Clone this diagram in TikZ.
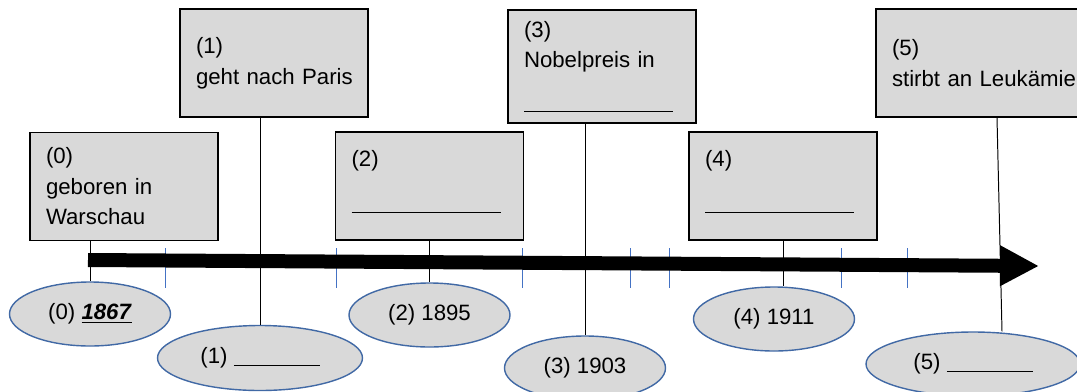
\documentclass[tikz,border=0pt]{standalone}
\usepackage{fontspec}
\setmainfont{Liberation Sans}
\usetikzlibrary{shapes.geometric,arrows.meta}
\definecolor{ovalblue}{RGB}{65,105,165}
\definecolor{tickblue}{RGB}{68,114,196}
\tikzset{
  eventbox/.style={draw, rectangle, line width=0.9pt, fill=gray!30, text width=#1, inner xsep=0.4cm, minimum height=2.7cm, align=left, font=\fontsize{15.8pt}{21.7pt}\selectfont},
  eventbox/.default=3.9cm,
  yearoval/.style={draw=ovalblue, ellipse, line width=1pt, fill=gray!30, minimum width=4.025cm, minimum height=1.6cm, inner sep=0pt, font=\fontsize{15.8pt}{21.7pt}\selectfont}
}

\begin{document}
\begin{tikzpicture}[line width=0.7pt]
    \useasboundingbox (0, 0) rectangle (26.925, -9.775);

    % 目盛りと時間軸
    \foreach \x in {4.125, 8.4, 13.05, 15.75, 16.725, 21.025, 22.675}
        \draw[tickblue, line width=0.6pt] (\x, -6.2) -- (\x, -7.2);
    \draw[line width=0.35cm, -{Triangle[length=0.975cm, width=0.95cm]}] (2.2, -6.5) -- (25.975, -6.65);

    % 箱を描画
    \node[eventbox] (A) at (3.1, -4.6625) {(0)\\geboren~in\\Warschau};
    \node[eventbox] (B) at (6.85, -1.575) {(1)\\geht~nach~Paris};
    \node[eventbox] (C) at (10.7375, -4.65) {(2)\\\rule[-11.5pt]{106pt}{0.9pt}\rule[-18pt]{0pt}{0pt}};
    \node[eventbox, minimum height=2.825cm] (D) at (15.05, -1.6625) {(3)\\Nobelpreis~in\\\rule[-10pt]{106pt}{0.9pt}};
    \node[eventbox] (E) at (19.575, -4.65) {(4)\\\rule[-11.5pt]{106pt}{0.9pt}\rule[-18pt]{0pt}{0pt}};
    \node[eventbox=4.55cm] (F) at (24.575, -1.575) {(5)\\stirbt~an~Leukämie};

    % 楕円を描画
    \node[yearoval] (G) at (2.25, -7.85) {(0) \underline{\textbf{\textit{1867}}}};
    \node[yearoval, minimum width=5.125cm, minimum height=1.625cm] (H) at (6.5, -8.95) {(1) \rule[-1.5pt]{61pt}{0.9pt}};
    \node[yearoval] (I) at (10.7375, -7.875) {(2) 1895};
    \node[yearoval] (J) at (14.625, -9.2) {(3) 1903};
    \node[yearoval] (K) at (19.35, -7.975) {(4) 1911};
    \node[yearoval, minimum width=5.35cm] (L) at (24.325, -9.1) {(5) \rule[-1.5pt]{61pt}{0.9pt}};

    % 線を描画
    \draw (G.north |- A.south) -- (G.north);
    \draw (H.north |- B.south) -- (H.north);
    \draw (C) -- (I);
    \draw (J.north |- D.south) -- (J.north);
    \draw (E.south) -- (E.south |- K.north);
    \draw ([xshift=0.35cm]F.south) -- ([xshift=0.725cm]L.north);
\end{tikzpicture}
\end{document}
